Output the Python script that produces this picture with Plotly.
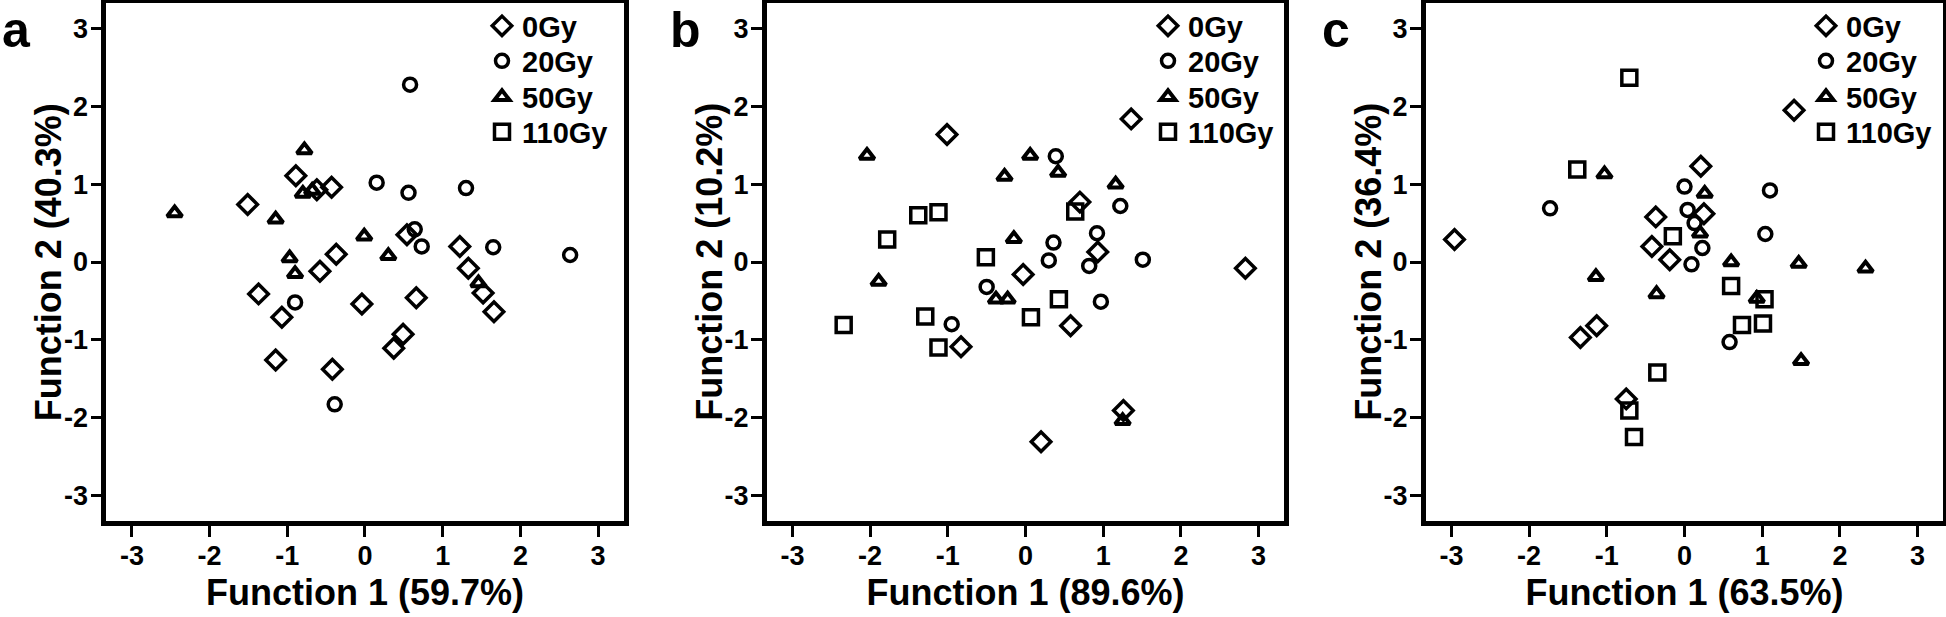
import plotly.graph_objects as go

# ---------------- data ----------------
groups = ["0Gy", "20Gy", "50Gy", "110Gy"]
panel_letters = ["a", "b", "c"]
x_titles = ["Function 1 (59.7%)", "Function 1 (89.6%)", "Function 1 (63.5%)"]
y_titles = ["Function 2 (40.3%)", "Function 2 (10.2%)", "Function 2 (36.4%)"]
tick_vals = [-3, -2, -1, 0, 1, 2, 3]
tick_text = ["-3", "-2", "-1", "0", "1", "2", "3"]

# panel a
a_0gy_x = [-0.89, -1.51, -0.62, -0.43, -0.37, -0.58, -1.37, -1.07, -0.04, -1.15, -0.42, 0.54, 1.22, 1.33, 1.52, 1.66, 0.66, 0.49, 0.37]
a_0gy_y = [1.11, 0.74, 0.93, 0.96, 0.10, -0.12, -0.41, -0.71, -0.54, -1.26, -1.38, 0.35, 0.20, -0.08, -0.40, -0.64, -0.46, -0.93, -1.11]
a_20gy_x = [0.58, 0.15, 0.56, 1.30, 0.64, 0.73, 1.65, 2.64, -0.90, -0.39]
a_20gy_y = [2.28, 1.02, 0.89, 0.95, 0.42, 0.20, 0.19, 0.09, -0.52, -1.83]
a_50gy_x = [-2.45, -0.78, -1.15, -0.80, -0.68, -0.01, -0.97, -0.90, 0.30, 1.46]
a_50gy_y = [0.63, 1.44, 0.55, 0.88, 0.92, 0.33, 0.05, -0.15, 0.08, -0.27]
a_110gy_x = []   # no 110Gy points in panel a (legend entry only)
a_110gy_y = []

# panel b
b_0gy_x = [-1.01, 1.36, 0.70, 0.93, 2.83, -0.03, 0.58, 1.26, 0.20, -0.83]
b_0gy_y = [1.64, 1.84, 0.77, 0.13, -0.08, -0.16, -0.82, -1.91, -2.31, -1.09]
b_20gy_x = [0.39, 1.22, 0.92, 0.36, 0.30, 0.82, 1.51, 0.97, -0.50, -0.95]
b_20gy_y = [1.36, 0.72, 0.37, 0.25, 0.02, -0.05, 0.03, -0.51, -0.32, -0.80]
b_50gy_x = [-2.04, -0.27, -0.15, -1.89, -0.38, -0.23, 0.06, 0.42, 1.16, 1.25]
b_50gy_y = [1.37, 1.10, 0.30, -0.25, -0.48, -0.48, 1.37, 1.15, 1.00, -2.04]
b_110gy_x = [-1.12, -1.38, -1.78, -0.51, -1.29, -2.34, -1.12, 0.64, 0.43, 0.07]
b_110gy_y = [0.64, 0.60, 0.29, 0.06, -0.70, -0.81, -1.10, 0.65, -0.48, -0.71]

# panel c
c_0gy_x = [1.41, 0.21, 0.25, -2.96, -0.37, -0.42, -0.19, -1.13, -1.34, -0.75]
c_0gy_y = [1.95, 1.23, 0.62, 0.29, 0.58, 0.20, 0.03, -0.82, -0.97, -1.76]
c_20gy_x = [-1.73, 0.00, 1.10, 0.04, 0.13, 1.04, 0.23, 0.09, 0.58]
c_20gy_y = [0.69, 0.97, 0.92, 0.67, 0.50, 0.36, 0.18, -0.03, -1.03]
c_50gy_x = [-1.03, -1.14, -0.36, 0.26, 0.20, 0.60, 1.47, 2.33, 0.93, 1.50]
c_50gy_y = [1.13, -0.19, -0.41, 0.88, 0.37, 0.00, -0.02, -0.08, -0.47, -1.27]
c_110gy_x = [-0.71, -1.38, -0.15, -0.35, -0.71, -0.65, 0.60, 1.03, 0.74, 1.01]
c_110gy_y = [2.37, 1.19, 0.33, -1.42, -1.91, -2.25, -0.31, -0.48, -0.81, -0.79]

panels = [
    [(a_0gy_x, a_0gy_y), (a_20gy_x, a_20gy_y), (a_50gy_x, a_50gy_y), (a_110gy_x, a_110gy_y)],
    [(b_0gy_x, b_0gy_y), (b_20gy_x, b_20gy_y), (b_50gy_x, b_50gy_y), (b_110gy_x, b_110gy_y)],
    [(c_0gy_x, c_0gy_y), (c_20gy_x, c_20gy_y), (c_50gy_x, c_50gy_y), (c_110gy_x, c_110gy_y)],
]

# ---------------- styling / layout ----------------
W, H = 1946, 617
FONT = "Liberation Sans, Arial, Helvetica, sans-serif"
symbols = ["diamond-open", "circle-open", "triangle-up-open", "square-open"]
sizes = [15, 13, 13, 15]
lwidths = [3.5, 3.5, 4, 3.5]

zero_px = [365, 1025.5, 1684.5]   # pixel x of value 0 in each panel
unit = 77.7
half = 3.33
y_dom = [1 - 521 / H, 1 - 3 / H]
legend_left_px = [482, 1148, 1806]
legend_row_px = [26, 61, 97, 132]
letter_left_px = [0, 668, 1320]
ytitle_offset_px = 58   # distance from the plot's left edge to the y title centre

fig = go.Figure()
layout = dict(
    width=W, height=H,
    margin=dict(l=0, r=0, t=0, b=0, pad=0),
    paper_bgcolor="white", plot_bgcolor="white",
    font=dict(family=FONT, color="black", weight="bold"),
    annotations=[],
)

for p in range(3):
    sfx = "" if p == 0 else str(p + 1)
    xref = "x" + sfx
    yref = "y" + sfx
    left = zero_px[p] - half * unit
    right = zero_px[p] + half * unit
    for g in range(4):
        xs, ys = panels[p][g]
        if len(xs) == 0:
            xs, ys = [None], [None]
        k = p * 4 + g + 1
        leg = "legend" if k == 1 else "legend" + str(k)
        fig.add_trace(go.Scatter(
            x=xs, y=ys, mode="markers", name=groups[g],
            xaxis=xref, yaxis=yref, legend=leg, showlegend=True,
            marker=dict(symbol=symbols[g], size=sizes[g], color="black",
                        line=dict(width=lwidths[g], color="black")),
        ))
        layout[leg] = dict(
            x=legend_left_px[p] / W, xanchor="left",
            y=1 - legend_row_px[g] / H, yanchor="middle",
            bgcolor="rgba(0,0,0,0)", borderwidth=0,
            font=dict(family=FONT, size=29, color="black", weight="bold"),
            itemwidth=30,
        )
    axis_common = dict(
        range=[-half, half], showgrid=False, zeroline=False, automargin=False,
        showline=True, linecolor="black", linewidth=4.5, mirror=True,
        ticks="outside", ticklen=11, tickwidth=3, tickcolor="black",
        tickvals=tick_vals, ticktext=tick_text,
        tickfont=dict(family=FONT, size=27, color="black", weight="bold"),
        fixedrange=True,
    )
    layout["xaxis" + sfx] = dict(
        axis_common, domain=[left / W, right / W], anchor=yref,
        ticklabelstandoff=-4,
        title=dict(text=x_titles[p], font=dict(family=FONT, size=36, weight="bold"), standoff=11),
    )
    layout["yaxis" + sfx] = dict(
        axis_common, domain=y_dom, anchor=xref, ticklabelstandoff=-3,
    )
    # y-axis title, placed next to the axis
    layout["annotations"].append(dict(
        text=y_titles[p], xref="paper", yref="paper", textangle=-90,
        x=(left - ytitle_offset_px) / W, y=(y_dom[0] + y_dom[1]) / 2,
        xanchor="center", yanchor="middle", showarrow=False,
        font=dict(family=FONT, size=36, color="black", weight="bold"),
    ))
    layout["annotations"].append(dict(
        text=panel_letters[p], xref="paper", yref="paper",
        x=letter_left_px[p] / W, y=1.0, xanchor="left", yanchor="top",
        showarrow=False, font=dict(family=FONT, size=50, color="black", weight="bold"),
    ))

fig.update_layout(**layout)
fig.write_html("out.html", config={"displayModeBar": False},
               post_script="document.body.style.margin='0';")
